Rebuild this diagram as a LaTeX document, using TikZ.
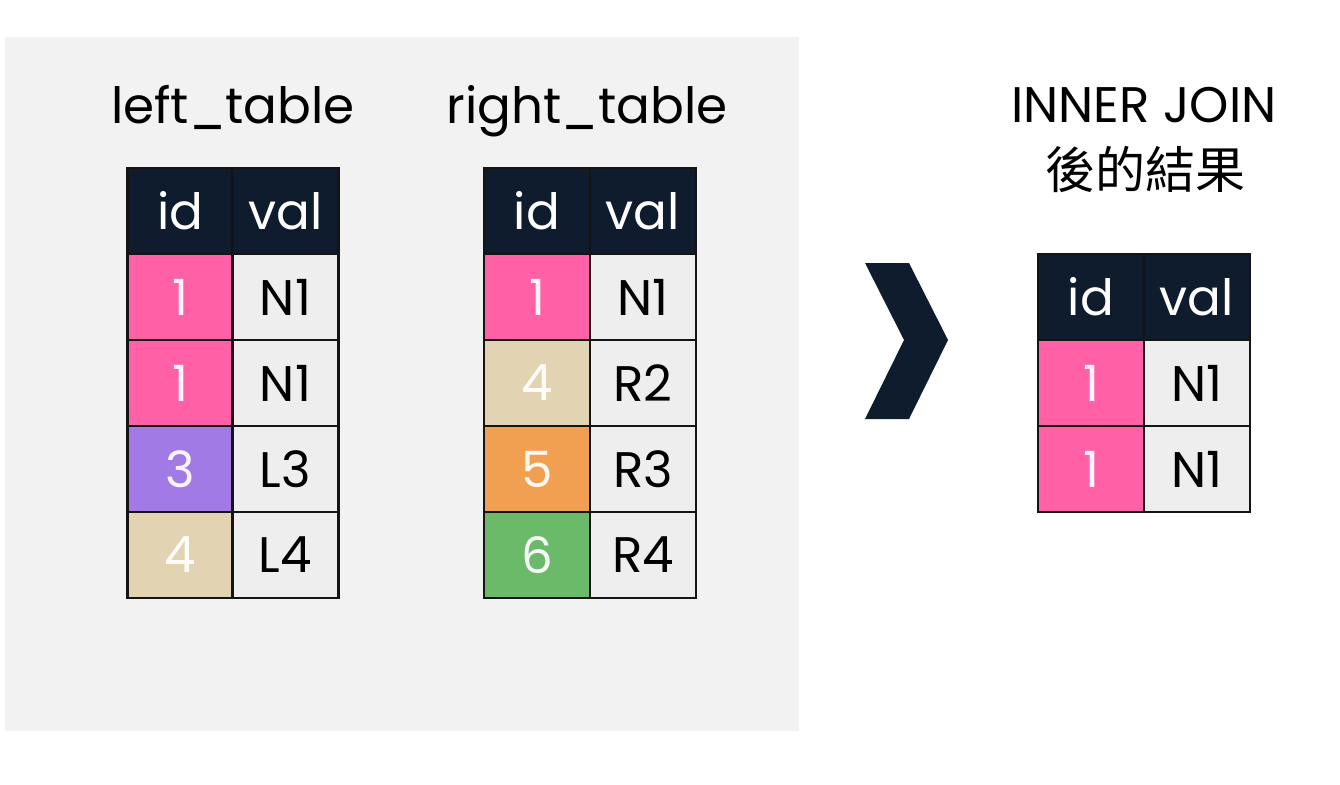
\documentclass[tikz,border=0pt]{standalone}
\usepackage{fontspec}
\setmainfont{Poppins}
\newfontfamily\cjk{Noto Sans CJK TC}
\definecolor{panel}{RGB}{242,242,242}
\definecolor{headc}{RGB}{14,28,46}
\definecolor{linec}{RGB}{20,20,20}
\definecolor{pinkc}{RGB}{255,96,166}
\definecolor{purplec}{RGB}{162,122,230}
\definecolor{tanc}{RGB}{226,212,178}
\definecolor{orangec}{RGB}{241,160,82}
\definecolor{greenc}{RGB}{106,186,106}
\definecolor{valc}{RGB}{238,238,238}
\tikzset{
  cellbox/.style={draw=linec, line width=2.5pt, minimum width=106pt, minimum height=86pt, inner sep=0pt, font=\fontsize{50}{56}\selectfont},
  headcell/.style={cellbox, fill=headc, text=white},
  idcell/.style={cellbox, fill=#1, text=white!92!#1},
  valcell/.style={cellbox, fill=valc, text=black},
  titletext/.style={font=\fontsize{50}{56}\selectfont, text=black, inner sep=0pt, anchor=base}
}
\begin{document}
\begin{tikzpicture}[x=1pt,y=-1pt]
\useasboundingbox (0,0) rectangle (1340,784);
\fill[white] (0,0) rectangle (1340,784);
\fill[panel] (5,37) rectangle (799,731);

% titles
\node[titletext] (lt) at (233,123) {left\_table};
\node[titletext] (rt) at (587,123) {right\_table};
\node[titletext] (res1) at (1144,122) {INNER JOIN};
\node[font=\fontsize{50}{56}\selectfont\cjk, inner sep=0pt] (res2) at (1145,169) {後的結果};

% left table
\node[headcell] (l00) at (180.5,211) {id};
\node[headcell] (l01) at (285.5,211) {val};
\node[idcell=pinkc] (l10) at (180.5,297) {1};
\node[valcell] (l11) at (285.5,297) {N1};
\node[idcell=pinkc] (l20) at (180.5,383) {1};
\node[valcell] (l21) at (285.5,383) {N1};
\node[idcell=purplec] (l30) at (180.5,469) {3};
\node[valcell] (l31) at (285.5,469) {L3};
\node[idcell=tanc] (l40) at (180.5,555) {4};
\node[valcell] (l41) at (285.5,555) {L4};

% right table
\node[headcell] (r00) at (537,211) {id};
\node[headcell] (r01) at (643,211) {val};
\node[idcell=pinkc] (r10) at (537,297) {1};
\node[valcell] (r11) at (643,297) {N1};
\node[idcell=tanc] (r20) at (537,383) {4};
\node[valcell] (r21) at (643,383) {R2};
\node[idcell=orangec] (r30) at (537,469) {5};
\node[valcell] (r31) at (643,469) {R3};
\node[idcell=greenc] (r40) at (537,555) {6};
\node[valcell] (r41) at (643,555) {R4};

% result table
\node[headcell] (j00) at (1091,297) {id};
\node[headcell] (j01) at (1197,297) {val};
\node[idcell=pinkc] (j10) at (1091,383) {1};
\node[valcell] (j11) at (1197,383) {N1};
\node[idcell=pinkc] (j20) at (1091,469) {1};
\node[valcell] (j21) at (1197,469) {N1};

% chevron
\fill[headc] (865,263) -- (909,263) -- (948,340) -- (909,419) -- (865,419) -- (904,340) -- cycle;
\end{tikzpicture}
\end{document}
